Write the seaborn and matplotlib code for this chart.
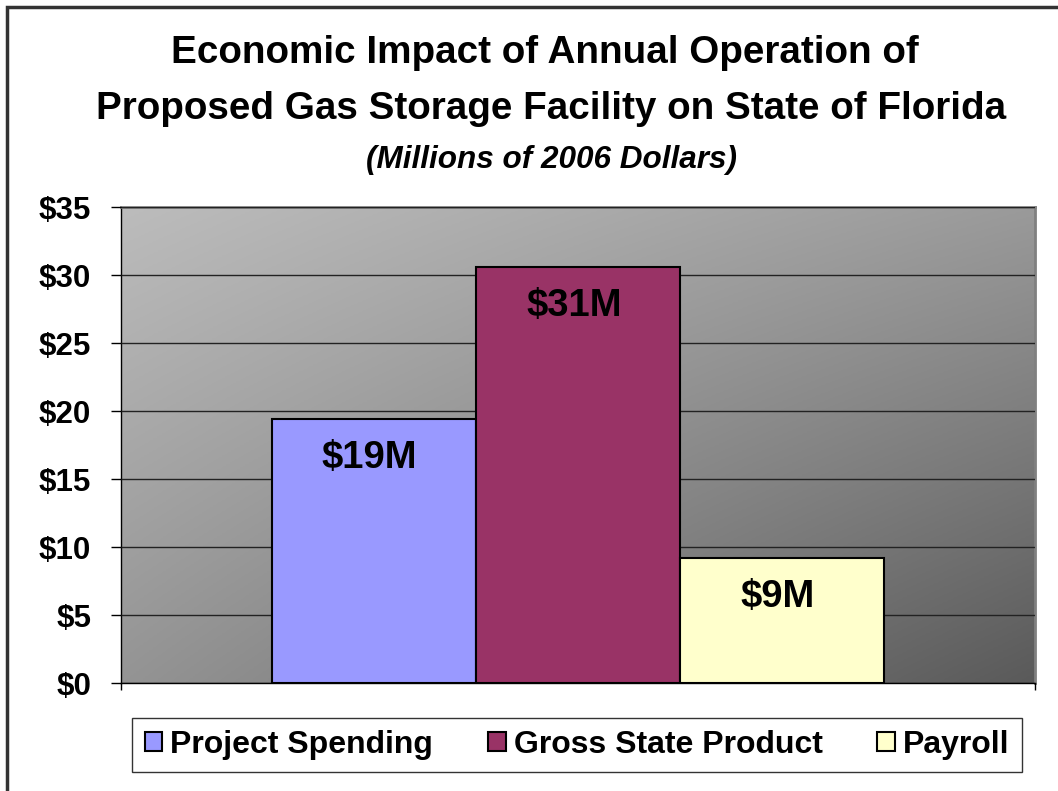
import numpy as np
import pandas as pd
import matplotlib
matplotlib.use("Agg")
import matplotlib.pyplot as plt
import seaborn as sns
from matplotlib.patches import Rectangle, Patch

# chart data
group = "Florida"
series = ["Project Spending", "Gross State Product", "Payroll"]
values = [19.4, 30.6, 9.2]
bar_labels = ["$19M", "$31M", "$9M"]
colors = ["#9999FF", "#993366", "#FFFFCC"]
y_ticks = [0, 5, 10, 15, 20, 25, 30, 35]

sns.set_style("white")
plt.rcParams['font.family'] = ['Liberation Sans', 'DejaVu Sans']
plt.rcParams['text.color'] = 'black'
plt.rcParams['xtick.color'] = 'black'
plt.rcParams['ytick.color'] = 'black'

df = pd.DataFrame({"group": [group] * len(series), "series": series, "value": values})

fig = plt.figure(figsize=(10.58, 7.91), dpi=100)
ax = fig.add_axes([121 / 1058, 1 - 683 / 791, 914 / 1058, 476 / 791])

# gradient background of the plot area: light top-left -> dark bottom-right
yy, xx = np.mgrid[0:1:200j, 0:1:200j]
level = (188 - 34 * xx - 40 * yy - 24 * xx * yy) / 255.0
rgb = np.dstack([level, level, level])
ax.imshow(rgb, extent=[0, 1, 0, 1], transform=ax.transAxes, aspect="auto",
          zorder=0, origin="upper")

sns.barplot(data=df, x="group", y="value", hue="series", hue_order=series,
            palette=colors, width=0.67, edgecolor="black", linewidth=1.5,
            saturation=1, legend=False, ax=ax, zorder=3)

ax.set_xlim(-0.5, 0.5)
ax.set_ylim(0, 35)
ax.set_yticks(y_ticks)
ax.set_yticklabels(["$%d" % t for t in y_ticks], fontsize=22.5, fontweight="bold")
ax.set_xticks([-0.5, 0.5])
ax.set_xticklabels(["", ""])
ax.tick_params(axis="y", direction="out", length=7.5, width=1, color="black", left=True, pad=14)
ax.tick_params(axis="x", direction="out", length=5, width=1, color="black", bottom=True)
ax.set_xlabel("")
ax.set_ylabel("")

ax.yaxis.grid(True, color="#222222", linewidth=1)
ax.set_axisbelow(False)
for gl in ax.get_ygridlines():
    gl.set_zorder(1)

for side in ["left", "bottom"]:
    ax.spines[side].set_color("black")
    ax.spines[side].set_linewidth(1)
for side in ["top", "right"]:
    ax.spines[side].set_color("#808080")
    ax.spines[side].set_linewidth(2)

# value labels inside the bars
for bar, lab in zip(ax.patches, bar_labels):
    ax.annotate(lab, (bar.get_x() + bar.get_width() / 2, bar.get_height()),
                xytext=(-3, -28), textcoords="offset points", ha="center", va="center",
                fontsize=27.5, fontweight="bold", zorder=5)

fig.text(545 / 1058, 1 - 53 / 791, "Economic Impact of Annual Operation of",
         ha="center", va="center", fontsize=27.8, fontweight="bold")
fig.text(551 / 1058, 1 - 109 / 791, "Proposed Gas Storage Facility on State of Florida",
         ha="center", va="center", fontsize=27.8, fontweight="bold")
fig.text(552 / 1058, 1 - 160 / 791, "(Millions of 2006 Dollars)",
         ha="center", va="center", fontsize=22.7, fontweight="bold", style="italic")

handles = [Patch(facecolor=c, edgecolor="black", linewidth=1.5) for c in colors]
leg = fig.legend(handles, series, loc="center", bbox_to_anchor=(577 / 1058, 1 - 745 / 791),
                 ncol=3, frameon=True, fancybox=False, handlelength=0.55, handleheight=0.55,
                 handletextpad=0.25, columnspacing=1.72, borderpad=0.39,
                 prop={"size": 23, "weight": "bold"})
leg.get_frame().set_edgecolor("black")
leg.get_frame().set_linewidth(1)

# outer border of the chart (top and left edges only)
fig.add_artist(Rectangle((7 / 1058, -0.1), 1.2, 1 - 7 / 791 + 0.1, transform=fig.transFigure,
                         fill=False, edgecolor="#333333", linewidth=2.5))

fig.savefig("out.png", dpi=100)
